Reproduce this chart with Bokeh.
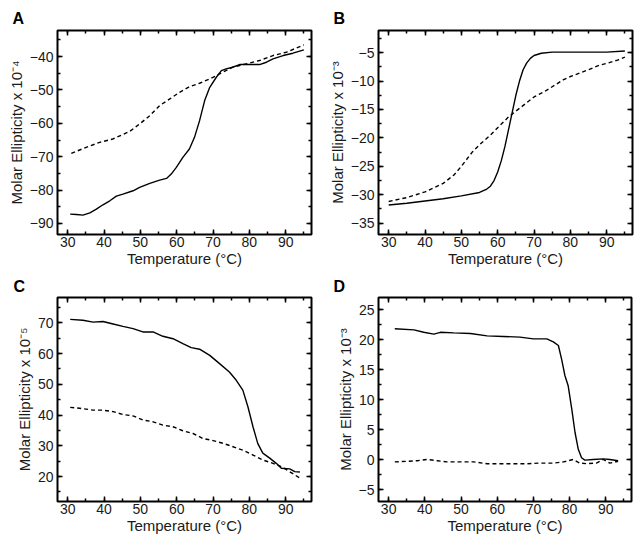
from bokeh.plotting import figure
from bokeh.models import LinearAxis, SingleIntervalTicker, Range1d
from bokeh.layouts import column, row
from bokeh.embed import file_html
from bokeh.resources import INLINE

FONT = "Liberation Sans"

x_label = "Temperature (°C)"
y_label = "Molar Ellipticity x 10"
letters = ["A", "B", "C", "D"]
exponents = ["⁻⁴", "⁻³", "⁻⁵", "⁻³"]

# ---- Panel A ----
a_solid_t = [30.7, 32.4, 34.2, 36.1, 37.9, 39.7, 41.6, 43.4, 45.2, 48.0, 49.8, 52.6, 55.3, 57.2,
             58.5, 59.9, 61.7, 63.5, 64.9, 66.3, 67.7, 69.1, 70.9, 72.3, 73.6, 75.4, 77.3, 80.1,
             82.8, 84.7, 86.5, 89.3, 92.0, 95.0]
a_solid = [-87.2, -87.3, -87.5, -86.8, -85.7, -84.4, -83.2, -81.8, -81.2, -80.2, -79.2, -78.0,
           -77.0, -76.5, -75.2, -73.2, -70.2, -67.7, -64.2, -59.2, -53.2, -49.2, -46.2, -44.2,
           -43.7, -43.2, -42.4, -42.4, -42.4, -41.7, -40.7, -39.7, -39.0, -38.0]
a_dash_t = [31.0, 35.1, 38.8, 42.4, 47.1, 49.8, 52.6, 55.3, 58.1, 60.8, 63.6, 66.3, 69.1, 71.8,
            75.4, 79.1, 82.8, 86.5, 90.2, 95.0]
a_dash = [-69.0, -67.2, -65.7, -64.7, -62.4, -60.2, -57.7, -54.7, -52.7, -50.7, -49.0, -48.0,
          -46.7, -45.2, -43.2, -42.2, -41.2, -39.7, -38.7, -36.5]

# ---- Panel B ----
b_solid_t = [30, 35, 40, 45, 50, 55, 57, 58, 59, 60, 61, 62, 63, 64, 65, 66, 67, 68, 69, 70, 72,
             75, 80, 85, 90, 95]
b_solid = [-31.8, -31.5, -31.1, -30.7, -30.2, -29.6, -29.0, -28.5, -27.5, -26.0, -24.0, -21.5,
           -18.5, -15.5, -12.5, -10.0, -8.0, -6.8, -6.0, -5.5, -5.1, -4.9, -4.9, -4.9, -4.9, -4.7]
b_dash_t = [30, 35, 40, 45, 48, 50, 53, 55, 58, 60, 63, 65, 68, 70, 73, 75, 78, 80, 85, 88, 90,
            93, 95]
b_dash = [-31.2, -30.5, -29.5, -28.0, -26.5, -25.0, -22.5, -21.2, -19.5, -18.2, -16.3, -15.3,
          -13.8, -12.8, -11.8, -11.0, -9.8, -9.2, -8.0, -7.2, -6.9, -6.3, -5.8]

# ---- Panel C ----
c_solid_t = [30.7, 34.2, 37.0, 39.7, 42.5, 45.2, 48.0, 50.7, 53.5, 56.2, 59.0, 61.7, 64.0, 66.3,
             69.1, 71.8, 74.5, 76.4, 78.2, 79.6, 81.0, 82.3, 83.7, 85.6, 87.4, 88.8, 91.1, 92.5,
             93.9]
c_solid = [71.1, 70.8, 70.2, 70.4, 69.6, 68.8, 68.1, 67.0, 67.0, 65.6, 64.8, 63.2, 61.9, 61.4,
           59.4, 56.7, 54.0, 51.3, 48.1, 42.7, 36.2, 30.8, 27.6, 26.0, 24.3, 22.7, 22.5, 21.6,
           21.5]
c_dash_t = [30.7, 33.3, 37.0, 39.7, 42.5, 45.2, 48.0, 50.7, 53.5, 56.2, 59.0, 61.7, 64.5, 67.2,
            70.0, 72.8, 75.5, 78.2, 81.0, 83.7, 86.5, 89.2, 93.9]
c_dash = [42.5, 42.2, 41.6, 41.6, 41.1, 40.2, 39.7, 38.4, 37.8, 36.7, 36.2, 34.9, 34.0, 32.4,
          31.7, 30.8, 29.7, 28.6, 27.0, 25.4, 24.3, 23.0, 19.5]

# ---- Panel D ----
d_solid_t = [31.7, 37.0, 39.7, 42.5, 44.3, 48.0, 52.6, 57.2, 61.7, 66.3, 70.0, 73.7, 75.5, 76.9,
             77.8, 78.7, 79.6, 80.6, 81.5, 82.4, 83.3, 84.2, 86.5, 89.3, 91.1, 93.4]
d_solid = [21.8, 21.6, 21.2, 20.9, 21.2, 21.1, 21.0, 20.6, 20.5, 20.4, 20.1, 20.1, 19.6, 19.0,
           16.7, 14.0, 12.3, 8.4, 4.5, 1.7, 0.3, -0.1, 0.0, 0.1, 0.0, -0.2]
d_dash_t = [31.7, 35.1, 37.9, 40.6, 43.4, 46.1, 49.8, 53.5, 57.2, 60.8, 64.5, 68.2, 71.8, 75.5,
            78.3, 81.0, 82.8, 84.7, 87.4, 89.3, 91.1, 93.4]
d_dash = [-0.4, -0.3, -0.2, 0.0, -0.2, -0.4, -0.4, -0.4, -0.7, -0.7, -0.7, -0.7, -0.6, -0.6,
          -0.4, 0.0, -0.6, -0.7, -0.6, 0.0, -0.6, -0.3]


def style_axis(ax):
    ax.axis_line_color = None
    ax.major_tick_in = 5
    ax.major_tick_out = 0
    ax.minor_tick_in = 3
    ax.minor_tick_out = 0
    ax.major_tick_line_color = "black"
    ax.minor_tick_line_color = "black"
    ax.major_tick_line_width = 1.5
    ax.minor_tick_line_width = 1.5
    ax.major_label_text_font = FONT
    ax.major_label_text_font_size = "14px"
    ax.major_label_text_color = "#1a1a1a"
    ax.axis_label_text_font = FONT
    ax.axis_label_text_font_size = "15px"
    ax.axis_label_text_font_style = "normal"
    ax.axis_label_text_color = "#1a1a1a"


def panel(letter, exponent, st, sv, dt, dv, yr, yint, width, height, bl, br, bt, bb,
          title_offset, title_standoff):
    p = figure(width=width, height=height, output_backend="svg", toolbar_location=None,
               x_range=Range1d(27.2, 97.1), y_range=Range1d(*yr),
               min_border_left=bl, min_border_right=br, min_border_top=bt, min_border_bottom=bb)
    p.line(st, sv, line_color="black", line_width=1.4)
    p.line(dt, dv, line_color="black", line_width=1.4, line_dash="4 3")
    p.grid.visible = False
    p.outline_line_color = "black"
    p.outline_line_width = 2
    p.background_fill_color = "white"
    p.border_fill_color = "white"

    p.title.text = letter
    p.title.align = "left"
    p.title.offset = title_offset
    p.title.standoff = title_standoff
    p.title.text_font = FONT
    p.title.text_font_size = "16px"
    p.title.text_font_style = "bold"
    p.title.text_color = "black"

    bottom = p.below[0]
    left = p.left[0]
    bottom.ticker = SingleIntervalTicker(interval=10, num_minor_ticks=2)
    left.ticker = SingleIntervalTicker(interval=yint, num_minor_ticks=2)
    bottom.axis_label = x_label
    left.axis_label = y_label + exponent
    top = LinearAxis(ticker=SingleIntervalTicker(interval=10, num_minor_ticks=2))
    right = LinearAxis(ticker=SingleIntervalTicker(interval=yint, num_minor_ticks=2))
    p.add_layout(top, "above")
    p.add_layout(right, "right")
    for ax in [bottom, left, top, right]:
        style_axis(ax)
    for ax in [top, right]:
        ax.major_label_text_color = None
        ax.major_label_text_font_size = "1px"
        ax.major_label_standoff = 0
    bottom.major_label_standoff = 2
    bottom.axis_label_standoff = 0
    left.major_label_standoff = 4
    left.axis_label_standoff = 2
    return p


pA = panel(letters[0], exponents[0], a_solid_t, a_solid, a_dash_t, a_dash, (-93.3, -32.2), 10,
           318, 270, 57, 7, 30, 36, -45, 8)
pB = panel(letters[1], exponents[1], b_solid_t, b_solid, b_dash_t, b_dash, (-37.0, -1.1), 5,
           321, 270, 60, 7, 30, 36, -45, 8)
pC = panel(letters[2], exponents[2], c_solid_t, c_solid, c_dash_t, c_dash, (11.9, 78.2), 10,
           318, 266, 57, 7, 27, 34, -44, 5)
pD = panel(letters[3], exponents[3], d_solid_t, d_solid, d_dash_t, d_dash, (-7.0, 27.0), 5,
           321, 266, 60, 8, 27, 34, -45, 5)

layout = column(row(pA, pB), row(pC, pD))
open("out.html", "w").write(file_html(layout, INLINE))
